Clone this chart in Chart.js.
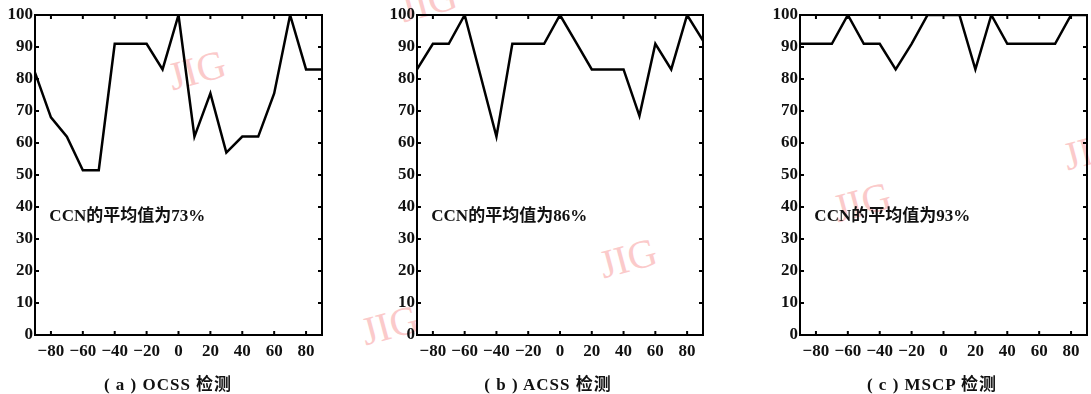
<!DOCTYPE html>
<html>
<head>
<meta charset="utf-8">
<script src="https://cdn.jsdelivr.net/npm/chart.js@4/dist/chart.umd.min.js"></script>
<style>
  body { margin: 0; background: #fff; }
  #wrap { position: relative; width: 1091px; height: 394px; overflow: hidden; }
  canvas { position: absolute; top: 0; }
  .cap { position: absolute; top: 370px; font: bold 17px "Liberation Serif", "Noto Sans CJK SC", serif; letter-spacing: 1px; color: #111; white-space: nowrap; transform: translateX(-50%); }
  .wm { position: absolute; font: 40px "Liberation Serif", serif; color: #fbcaca; transform: translate(-50%, -50%) rotate(-15deg); white-space: nowrap; }
</style>
</head>
<body>
<div id="wrap">
  <div class="wm" style="left:197px;top:70px">JIG</div>
  <div class="wm" style="left:390px;top:325px">JIG</div>
  <div class="wm" style="left:628px;top:258px">JIG</div>
  <div class="wm" style="left:428px;top:2px">JIG</div>
  <div class="wm" style="left:862px;top:202px">JIG</div>
  <div class="wm" style="left:1092px;top:150px">JIG</div>
  <canvas id="chartA" width="340" height="394" style="left:0px"></canvas>
  <canvas id="chartB" width="340" height="394" style="left:380px"></canvas>
  <canvas id="chartC" width="331" height="394" style="left:760px"></canvas>
  <div class="cap" style="left:168px">( a ) OCSS 检测</div>
  <div class="cap" style="left:548px">( b ) ACSS 检测</div>
  <div class="cap" style="left:932px">( c ) MSCP 检测</div>
</div>
<script>
// angles (x axis) and detection rates for each method
const angles = [-90, -80, -70, -60, -50, -40, -30, -20, -10, 0, 10, 20, 30, 40, 50, 60, 70, 80, 90];
const ocss = [82, 68, 62, 51.5, 51.5, 91, 91, 91, 83, 100, 62, 75.5, 57, 62, 62, 75.5, 100, 83, 83];
const acss = [83, 91, 91, 100, 81, 62, 91, 91, 91, 100, 91.5, 83, 83, 83, 68.5, 91, 83, 100, 92];
const mscp = [91, 91, 91, 100, 91, 91, 83, 91, 100, 100, 100, 83, 100, 91, 91, 91, 91, 100, 100];
const xTicks = [-80, -60, -40, -20, 0, 20, 40, 60, 80];
const yTicks = [0, 10, 20, 30, 40, 50, 60, 70, 80, 90, 100];
const notes = ['CCN的平均值为73%', 'CCN的平均值为86%', 'CCN的平均值为93%'];

const labelFont = { family: '"Liberation Serif", serif', size: 17, weight: 'bold' };

// frame + inward ticks on all four sides, plus the mean-value note
const framePlugin = {
  id: 'frame',
  afterDraw(chart) {
    const ctx = chart.ctx;
    const a = chart.chartArea;
    const xs = chart.scales.x, ys = chart.scales.y;
    ctx.save();
    ctx.strokeStyle = '#000';
    ctx.lineWidth = 2;
    ctx.strokeRect(a.left, a.top, a.right - a.left, a.bottom - a.top);
    xTicks.forEach(v => {
      const px = xs.getPixelForValue(v);
      ctx.beginPath();
      ctx.moveTo(px, a.bottom); ctx.lineTo(px, a.bottom - 4);
      ctx.moveTo(px, a.top); ctx.lineTo(px, a.top + 4);
      ctx.stroke();
    });
    yTicks.forEach(v => {
      const py = ys.getPixelForValue(v);
      ctx.beginPath();
      ctx.moveTo(a.left, py); ctx.lineTo(a.left + 4, py);
      ctx.moveTo(a.right, py); ctx.lineTo(a.right - 4, py);
      ctx.stroke();
    });
    const note = chart.options.plugins.frame.note;
    ctx.fillStyle = '#111';
    ctx.font = 'bold 17px "Liberation Serif", "Noto Sans CJK SC", serif';
    ctx.textAlign = 'left';
    ctx.textBaseline = 'middle';
    ctx.fillText(note, xs.getPixelForValue(-81), ys.getPixelForValue(37));
    ctx.restore();
  }
};

function makeChart(el, values, note, yWidth, padRight) {
  return new Chart(el, {
    type: 'line',
    data: {
      datasets: [{
        data: angles.map((a, i) => ({ x: a, y: values[i] })),
        borderColor: '#000',
        borderWidth: 2.5,
        pointRadius: 0,
        tension: 0,
        fill: false
      }]
    },
    options: {
      responsive: false,
      animation: false,
      layout: { padding: { top: 15, right: padRight, left: 0, bottom: 0 } },
      plugins: {
        legend: { display: false },
        tooltip: { enabled: false },
        frame: { note: note }
      },
      scales: {
        x: {
          type: 'linear',
          min: -90,
          max: 90,
          afterBuildTicks: (s) => { s.ticks = xTicks.map(v => ({ value: v })); },
          afterFit: (s) => { s.height = 59; },
          grid: { display: false, drawTicks: false },
          border: { display: false },
          ticks: {
            padding: 6,
            color: '#111',
            font: labelFont,
            maxRotation: 0,
            autoSkip: false,
            callback: (v) => v < 0 ? '\u2212' + Math.abs(v) : String(v)
          }
        },
        y: {
          min: 0,
          max: 100,
          afterFit: (s) => { s.width = yWidth; },
          grid: { display: false, drawTicks: false },
          border: { display: false },
          ticks: { stepSize: 10, padding: 2, color: '#111', font: labelFont }
        }
      }
    },
    plugins: [framePlugin]
  });
}

makeChart(document.getElementById('chartA'), ocss, notes[0], 35, 18);
makeChart(document.getElementById('chartB'), acss, notes[1], 37, 17);
makeChart(document.getElementById('chartC'), mscp, notes[2], 40, 4);
</script>
</body>
</html>
